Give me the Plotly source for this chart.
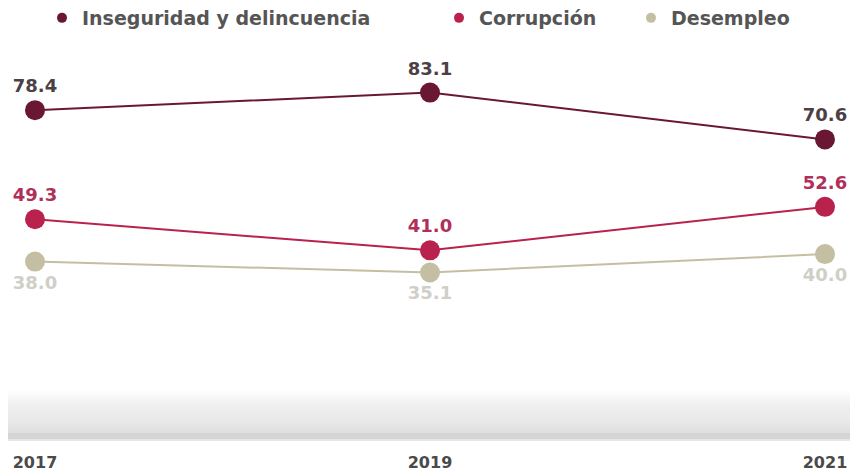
import plotly.graph_objects as go

# ---- data ----
years = [2017, 2019, 2021]
tick_labels = ["2017", "2019", "2021"]
series_names = ["Inseguridad y delincuencia", "Corrupción", "Desempleo"]
inseguridad = [78.4, 83.1, 70.6]
corrupcion = [49.3, 41.0, 52.6]
desempleo = [38.0, 35.1, 40.0]

# ---- styles ----
line_colors = ["#6a1733", "#b8224c", "#c4bfa3"]
text_colors = ["#4b4046", "#b0305a", "#cfcfc8"]
text_pos = ["top center", "top center", "bottom center"]
legend_ids = ["legend", "legend2", "legend3"]
legend_left_px = [34, 431, 623]   # left edge of each legend box (figure px)
FONT = "DejaVu Sans"

# page has an 8px body margin; figure is sized to fit the window
W, H = 850, 465
ML, MR, MT, MB = 27, 33, 0, 33
plot_w = W - ML - MR
plot_h = H - MT - MB

fig = go.Figure()

all_series = [inseguridad, corrupcion, desempleo]
for name, vals, lc, tc, tp, lid in zip(series_names, all_series, line_colors,
                                       text_colors, text_pos, legend_ids):
    fig.add_trace(go.Scatter(
        x=years, y=vals, mode="lines+markers+text",
        line=dict(color=lc, width=2),
        marker=dict(color=lc, size=20),
        text=[f"{v:.1f}" for v in vals],
        textposition=tp,
        textfont=dict(family=FONT, size=18, color=tc, weight="bold"),
        cliponaxis=False, showlegend=False, hoverinfo="skip",
    ))
    # legend-only entry (dot)
    fig.add_trace(go.Scatter(
        x=[None], y=[None], mode="markers", name=name,
        marker=dict(color=lc, size=10), showlegend=True, legend=lid,
    ))

# grey gradient band near the bottom
def px_to_paper(p):
    return (H - MB - p) / plot_h

def grey(level):
    level = int(round(level))
    return f"rgb({level},{level+1},{level})"

X0 = -ML / plot_w
X1 = 1 + MR / plot_w
shapes = []
stops = [(382, 253), (387, 248), (397, 238), (412, 232), (425, 222)]
for (p0, c0), (p1, c1) in zip(stops[:-1], stops[1:]):
    p = p0
    while p < p1:
        t = (p - p0) / (p1 - p0)
        c = c0 + (c1 - c0) * t
        shapes.append(dict(type="rect", xref="paper", yref="paper",
                           x0=X0, x1=X1, y0=px_to_paper(p + 1), y1=px_to_paper(p),
                           fillcolor=grey(c), line=dict(width=0), layer="below"))
        p += 1
for p0, p1, c in [(425, 431, 212), (431, 433, 230)]:
    shapes.append(dict(type="rect", xref="paper", yref="paper",
                       x0=X0, x1=X1, y0=px_to_paper(p1), y1=px_to_paper(p0),
                       fillcolor=grey(c), line=dict(width=0), layer="below"))

legend_font = dict(family=FONT, size=19, color="#555555", weight="bold")
legend_layouts = {}
for lid, lx in zip(legend_ids, legend_left_px):
    legend_layouts[lid] = dict(orientation="h", x=(lx - ML) / plot_w, xanchor="left",
                               y=1 + 9 / plot_h, yanchor="top", font=legend_font,
                               itemwidth=30, bgcolor="rgba(0,0,0,0)")

fig.update_layout(
    width=W, height=H,
    margin=dict(l=ML, r=MR, t=MT, b=MB, autoexpand=False),
    paper_bgcolor="white", plot_bgcolor="white",
    shapes=shapes,
    showlegend=True,
    xaxis=dict(range=[2017, 2021], tickvals=years, ticktext=tick_labels,
               showgrid=False, zeroline=False, showline=False, automargin=False,
               ticks="outside", ticklen=0, ticklabelstandoff=8,
               tickfont=dict(family=FONT, size=16, color="#4a4a4a", weight="bold")),
    yaxis=dict(range=[-9.6, 105.66], visible=False, showgrid=False, zeroline=False,
               automargin=False),
    **legend_layouts,
)

fig.write_html("out.html")
